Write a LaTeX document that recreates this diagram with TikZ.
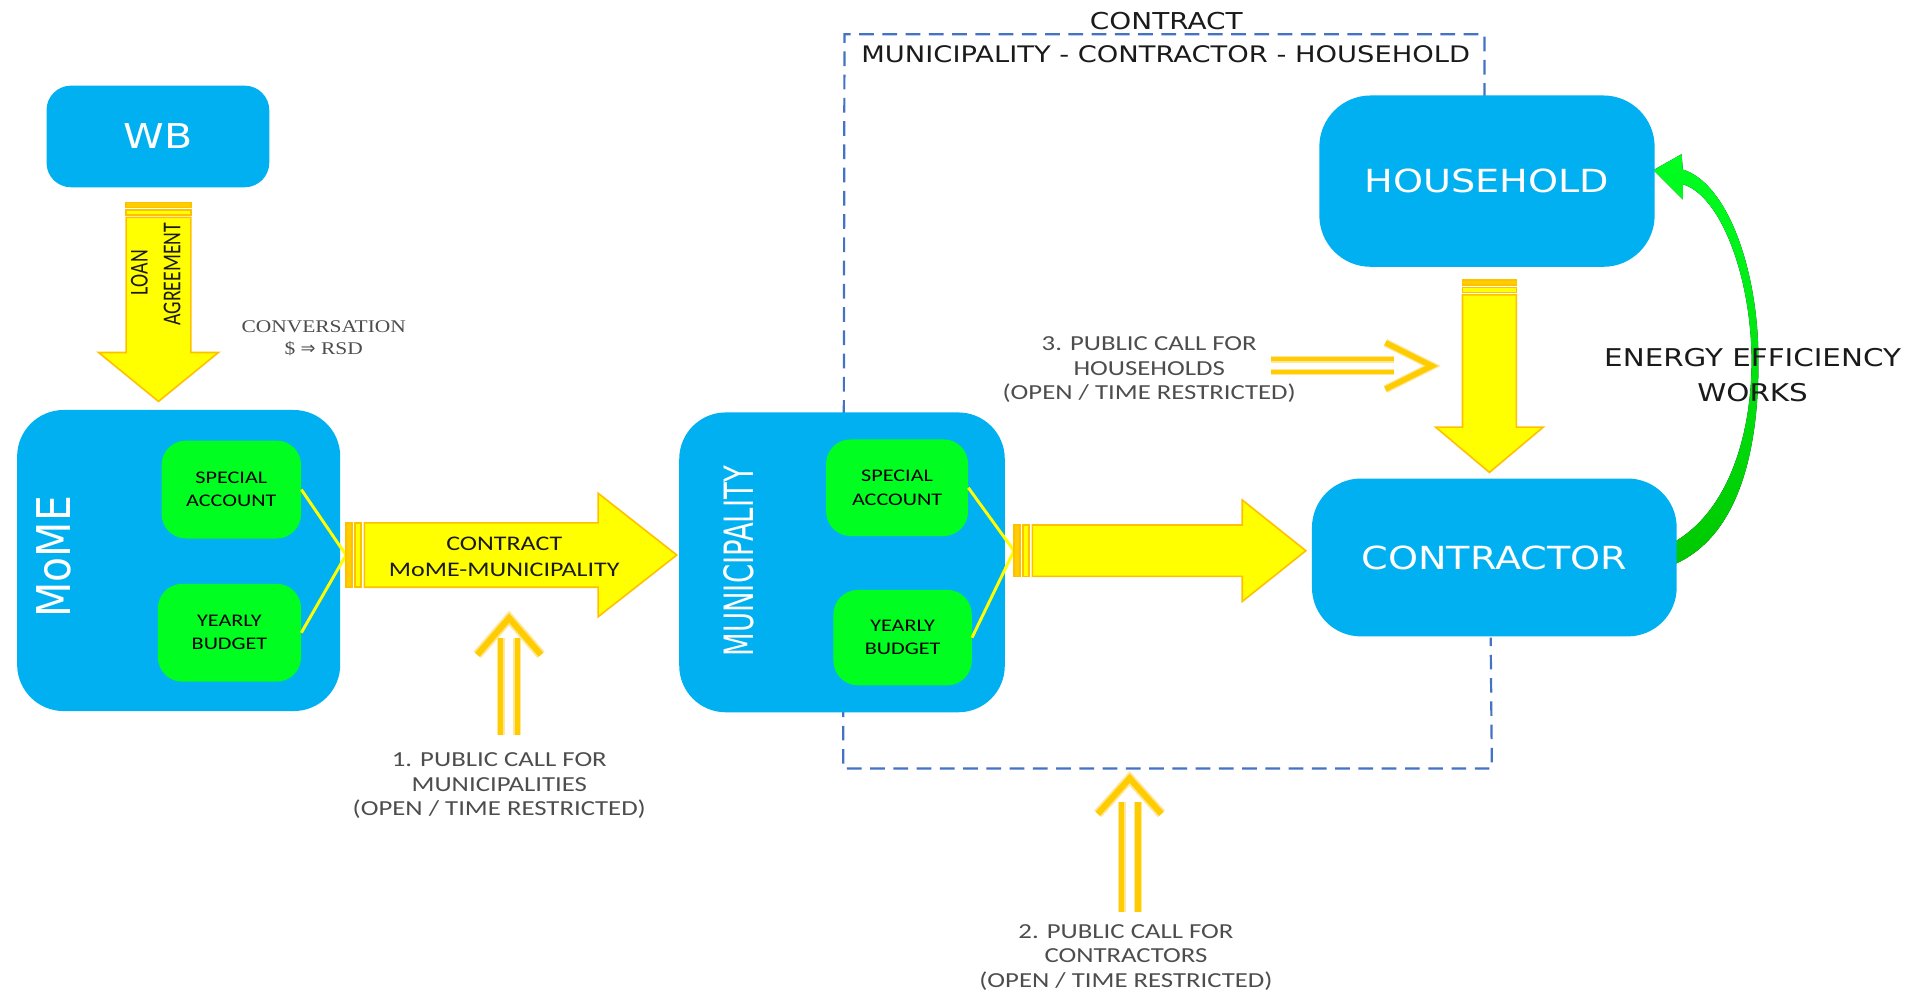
\documentclass[tikz,border=0pt]{standalone}
\usepackage{fontspec}
\setmainfont{Carlito}
\newfontfamily\boxfont[FakeStretch=1.2]{DejaVu Sans}
\newfontfamily\lblfont[FakeStretch=1.25]{Carlito}
\newfontfamily\serfont[FakeStretch=1.2]{Liberation Serif}
\newfontfamily\rotfontA[FakeStretch=0.88]{DejaVu Sans}
\newfontfamily\rotfontB[FakeStretch=0.68]{DejaVu Sans}
\newfontfamily\rotfontC[FakeStretch=0.77]{Carlito}
\newfontfamily\symfont{DejaVu Sans}
\usetikzlibrary{calc}
\definecolor{boxblue}{RGB}{0,176,240}
\definecolor{accgreen}{RGB}{0,255,33}
\definecolor{darkgreen}{RGB}{0,200,0}
\definecolor{arrowyellow}{RGB}{255,255,0}
\definecolor{arrowgold}{RGB}{255,192,0}
\definecolor{stripegold}{RGB}{255,205,0}
\definecolor{callgold}{RGB}{255,204,0}
\definecolor{callpale}{RGB}{255,230,153}
\definecolor{dashblue}{RGB}{68,114,196}
\definecolor{labelgray}{RGB}{77,77,77}
\definecolor{inkblack}{RGB}{26,26,26}
\newcommand\blockarr[5]{%
  \filldraw[bstripe] (0,-#2) rectangle ({5*#5},#2);
  \filldraw[barrow] ({7.5*#5},-#2) rectangle ({12.5*#5},#2);
  \filldraw[barrow] ({15*#5},-#2) -- (#3,-#2) -- (#3,-#4) -- (#1,0) -- (#3,#4) -- (#3,#2) -- ({15*#5},#2) -- cycle;}
\begin{document}
\begin{tikzpicture}[x=1pt,y=-1pt,
  bluebox/.style={fill=boxblue, draw=none, rounded corners=#1, inner sep=0pt, text=white, font=\boxfont\fontsize{26}{30}\selectfont},
  greenbox/.style={fill=accgreen, draw=none, rounded corners=20pt, inner sep=0pt, align=center, text=black, font=\lblfont\fontsize{14.5}{19}\selectfont},
  yline/.style={draw=arrowyellow, line width=2.4pt},
  barrow/.style={fill=arrowyellow, draw=arrowgold, line width=1.3pt, line join=miter},
  bstripe/.style={fill=stripegold, draw=arrowgold, line width=1.3pt},
  dashbox/.style={draw=dashblue, line width=1.8pt, dash pattern=on 12pt off 7pt},
  callhalo/.style={draw=callpale, line width=#1, line join=miter},
  callline/.style={draw=callgold, line width=#1, line join=miter},
  calllbl/.style={align=center, inner sep=0pt, text=labelgray, font=\lblfont\fontsize{17.5}{20}\selectfont},
  inklbl/.style={inner sep=0pt, text=inkblack}]
\useasboundingbox (0,0) rectangle (1568,811);
% contract frame
\draw[dashbox] (1213,80) -- (1213,28) -- (690,28) -- (689,628) -- (1219,628) -- (1218,521);
% green curved arrow (energy efficiency works)
\fill[top color=accgreen, middle color=accgreen, bottom color=darkgreen]
  (1366,462) .. controls (1420,440) and (1437,370) .. (1436.8,295)
  .. controls (1437,222) and (1412,150) .. (1375,138.5)
  -- (1374,126) -- (1351,139) -- (1375,163) -- (1375,150.5)
  .. controls (1406,160) and (1431,226) .. (1431.2,295)
  .. controls (1431,360) and (1410,420) .. (1366,444) -- cycle;
% boxes
\node[bluebox=20pt, minimum width=182pt, minimum height=83pt, font=\boxfont\fontsize{28}{32}\selectfont] (wb) at (129,111.5) {WB};
\node[bluebox=38pt, minimum width=264pt, minimum height=246pt] (mome) at (146,458) {};
\node[rotate=90, inner sep=0pt, text=white, font=\rotfontA\fontsize{38}{40}\selectfont] (momelbl) at (44,455) {MoME};
\node[greenbox, minimum width=114pt, minimum height=80pt] (sa1) at (189,400) {SPECIAL\\ACCOUNT};
\node[greenbox, minimum width=117pt, minimum height=80pt] (yb1) at (187.5,517) {YEARLY\\BUDGET};
\node[bluebox=38pt, minimum width=266pt, minimum height=245pt] (mun) at (688,459.5) {};
\node[rotate=90, inner sep=0pt, text=white, font=\rotfontB\fontsize{33}{36}\selectfont] (munlbl) at (604,458.6) {MUNICIPALITY};
\node[greenbox, minimum width=116pt, minimum height=79pt] (sa2) at (733,398.5) {SPECIAL\\ACCOUNT};
\node[greenbox, minimum width=113pt, minimum height=78pt] (yb2) at (737.5,521) {YEARLY\\BUDGET};
\node[bluebox=42pt, minimum width=274pt, minimum height=140pt] (hh) at (1215,148) {HOUSEHOLD};
\node[bluebox=40pt, minimum width=298pt, minimum height=129pt] (con) at (1221,455.5) {CONTRACTOR};
% arrow start points
\coordinate (aA) at (129.5,165.6);
\coordinate (aB) at (282.7,453.5);
\coordinate (aC) at (828.5,450);
\coordinate (aD) at (1217,229);
% yellow lines from accounts
\draw[yline] (sa1.east) -- (aB) -- (yb1.east);
\draw[yline] (sa2.east) -- (aC) -- (yb2.east);
% block arrows
\begin{scope}[shift={(aA)},rotate=-90]\blockarr{162.4}{26.5}{122.4}{49}{0.8}\end{scope}
\begin{scope}[shift={(aB)}]\blockarr{270.3}{26.3}{206}{50.5}{1}\end{scope}
\begin{scope}[shift={(aC)}]\blockarr{238.5}{21}{186.5}{41.5}{1}\end{scope}
\begin{scope}[shift={(aD)},rotate=-90]\blockarr{157}{22}{120}{44}{0.8}\end{scope}
% public call arrows
\draw[callhalo=6.5pt] (409.2,600.6) -- (409.2,521) (422.8,600.6) -- (422.8,521);
\draw[callline=4.2pt] (409.2,600.6) -- (409.2,521) (422.8,600.6) -- (422.8,521);
\draw[callhalo=8pt] (390,535) -- (416,505) -- (442,535);
\draw[callline=5pt] (390,535) -- (416,505) -- (442,535);
\draw[callhalo=6.5pt] (916.5,745) -- (916.5,655) (929.8,745) -- (929.8,655);
\draw[callline=4.2pt] (916.5,745) -- (916.5,655) (929.8,745) -- (929.8,655);
\draw[callhalo=8pt] (897,665) -- (923,636) -- (949,665);
\draw[callline=5pt] (897,665) -- (923,636) -- (949,665);
\draw[callhalo=5.5pt] (1038.6,293.5) -- (1139,293.5) (1038.6,304) -- (1139,304);
\draw[callline=3.6pt] (1038.6,293.5) -- (1139,293.5) (1038.6,304) -- (1139,304);
\draw[callhalo=6.5pt] (1132,280) -- (1170,299) -- (1132,318);
\draw[callline=4.5pt] (1132,280) -- (1170,299) -- (1132,318);
% texts
\node[inklbl, font=\boxfont\fontsize{19}{22}\selectfont] (ttl1) at (953,17) {CONTRACT};
\node[inklbl, font=\boxfont\fontsize{18.6}{22}\selectfont] (ttl2) at (952.5,44) {MUNICIPALITY - CONTRACTOR - HOUSEHOLD};
\node[inklbl, rotate=90, font=\rotfontC\fontsize{21}{24}\selectfont] (loan) at (113.8,222.7) {LOAN};
\node[inklbl, rotate=90, font=\rotfontC\fontsize{21}{24}\selectfont] (agr) at (140.7,224) {AGREEMENT};
\node[align=center, inner sep=0pt, text=labelgray, font=\serfont\fontsize{14.6}{18}\selectfont] (conv) at (264.5,276) {CONVERSATION\\\$ {\symfont ⇒} RSD};
\node[inklbl, align=center, font=\lblfont\fontsize{17}{21}\selectfont] (ctr) at (412,455) {CONTRACT\\MoME-MUNICIPALITY};
\node[calllbl] (call1) at (408,642) {1. PUBLIC CALL FOR\\MUNICIPALITIES\\(OPEN / TIME RESTRICTED)};
\node[calllbl] (call2) at (920,782) {2. PUBLIC CALL FOR\\CONTRACTORS\\(OPEN / TIME RESTRICTED)};
\node[calllbl] (call3) at (939,302) {3. PUBLIC CALL FOR\\HOUSEHOLDS\\(OPEN / TIME RESTRICTED)};
\node[inklbl, align=center, font=\boxfont\fontsize{20}{28.6}\selectfont] (ee) at (1432,306.5) {ENERGY EFFICIENCY\\WORKS};
\end{tikzpicture}
\end{document}
